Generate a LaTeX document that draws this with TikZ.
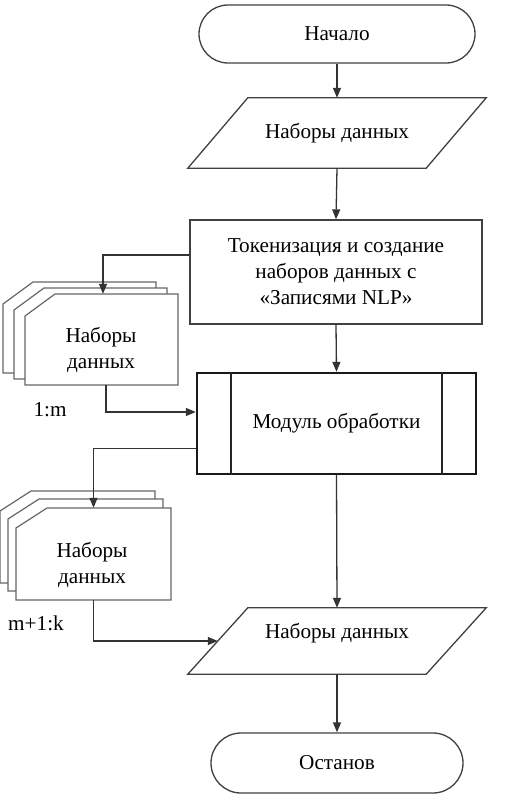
\documentclass[tikz,border=0pt]{standalone}
\usepackage{fontspec}
\setmainfont{Liberation Serif}
\usetikzlibrary{arrows.meta}
\begin{document}
\begin{tikzpicture}[x=1pt,y=-1pt,
  line/.style={draw=black!80, line width=1.3pt},
  arr/.style={line, -{Triangle[length=10pt,width=8pt]}},
  box/.style={draw=black!75, line width=1.3pt, fill=white, inner sep=0pt},
  pgon/.style={draw=black!75, line width=1.3pt},
  term/.style={box, rounded corners=29pt},
  txt/.style={font=\fontsize{21.2}{26}\selectfont, text=black, align=center, inner sep=0pt},
  cardline/.style={draw=black!60, line width=1.2pt, fill=white},
]
\useasboundingbox (0,0) rectangle (528,800);

% start / stop
\node[term, txt, minimum width=276pt, minimum height=58pt] (start) at (337,34) {Начало};

% first data parallelogram
\node[txt, minimum width=238pt, minimum height=70pt] (p1) at (337,133) {Наборы данных};
\draw[pgon] ([xshift=30pt]p1.north west) -- ([xshift=30pt]p1.north east) -- ([xshift=-30pt]p1.south east) -- ([xshift=-30pt]p1.south west) -- cycle;

% tokenization box
\node[box, txt, minimum width=292pt, minimum height=104pt] (tok) at (336,272) {Токенизация и создание\\наборов данных с\\«Записями NLP»};

% module (predefined process)
\node[draw=black!90, line width=2.4pt, txt, minimum width=279pt, minimum height=101pt] (mod) at (336.5,423.5) {Модуль обработки};
\draw[draw=black!85, line width=2pt] ([xshift=35pt]mod.north west) -- ([xshift=35pt]mod.south west);
\draw[draw=black!85, line width=2pt] ([xshift=-35pt]mod.north east) -- ([xshift=-35pt]mod.south east);

% second data parallelogram
\node[minimum width=238pt, minimum height=66pt, inner sep=0pt] (p2) at (337,641) {};
\draw[pgon] ([xshift=30pt]p2.north west) -- ([xshift=30pt]p2.north east) -- ([xshift=-30pt]p2.south east) -- ([xshift=-30pt]p2.south west) -- cycle;
\node[txt] (p2t) at (337,633) {Наборы данных};

\node[term, rounded corners=30pt, txt, minimum width=252pt, minimum height=60pt] (stop) at (337,763) {Останов};

% card stack 1
\foreach \dx/\dy in {-22/-12, -11/-6, 0/0} {
  \draw[cardline] (25+\dx,316+\dy) -- (55+\dx,294+\dy) -- (178+\dx,294+\dy) -- (178+\dx,385+\dy) -- (25+\dx,385+\dy) -- cycle;
}
\node[minimum width=153pt, minimum height=91pt, inner sep=0pt] (c1) at (101.5,339.5) {};
\node[txt] (c1t) at (101,350) {Наборы\\данных};
\node[txt] (lab1) at (50,410) {1:m};

% card stack 2
\foreach \dx/\dy in {-16/-17, -8/-9, 0/0} {
  \draw[cardline] (16+\dx,528+\dy) -- (47+\dx,508+\dy) -- (171+\dx,508+\dy) -- (171+\dx,600+\dy) -- (16+\dx,600+\dy) -- cycle;
}
\node[minimum width=155pt, minimum height=92pt, inner sep=0pt] (c2) at (93.5,554) {};
\node[txt] (c2t) at (92,565) {Наборы\\данных};
\node[txt] (lab2) at (36,623) {m+1:k};

% connectors
\draw[arr] (start.south) -- (p1.north);
\draw[arr] (p1.south) -- (tok.north);
\draw[arr] ([yshift=17pt]tok.west) -| ([xshift=1.5pt]c1.north);
\draw[arr] ([xshift=4.5pt]c1.south) |- ([yshift=11.5pt]mod.west);
\draw[arr] (tok.south) -- (mod.north);
\draw[arr] ([yshift=-25pt]mod.west) -| (c2.north);
\draw[arr] (c2.south) |- (p2.west);
\draw[arr] (mod.south) -- (p2.north);
\draw[arr] (p2.south) -- (stop.north);
\end{tikzpicture}
\end{document}
